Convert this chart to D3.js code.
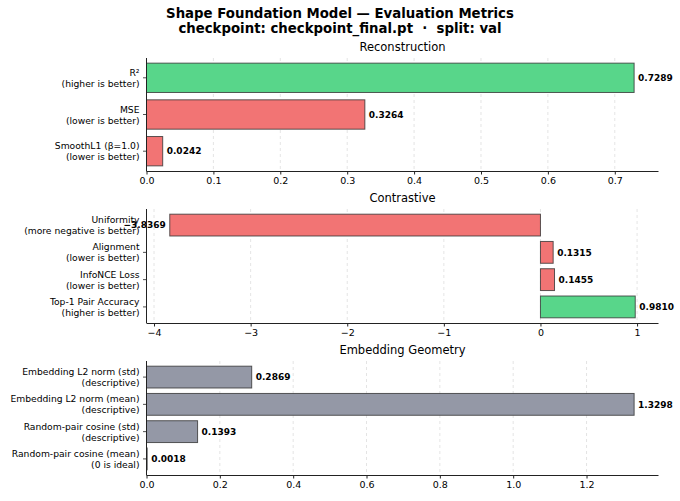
<!DOCTYPE html>
<html>
<head>
<meta charset="utf-8">
<script src="https://cdn.jsdelivr.net/npm/d3@7"></script>
<style>
  body { margin: 0; background: #fff; }
  svg text { font-family: "DejaVu Sans", sans-serif; fill: #000; }
</style>
</head>
<body>
<svg id="chart" width="680" height="501"></svg>
<script>
'use strict';

// --- data ---
var titleLines = ["Shape Foundation Model \u2014 Evaluation Metrics",
                  "checkpoint: checkpoint_final.pt  \u00b7  split: val"];

var reconTitle = "Reconstruction";
var reconLabels = [["R\u00b2", "(higher is better)"],
                   ["MSE", "(lower is better)"],
                   ["SmoothL1 (\u03b2=1.0)", "(lower is better)"]];
var reconValues = [0.7289, 0.3264, 0.0242];
var reconKinds = ["good", "bad", "bad"];
var reconTicks = [0, 0.1, 0.2, 0.3, 0.4, 0.5, 0.6, 0.7];

var contrTitle = "Contrastive";
var contrLabels = [["Uniformity", "(more negative is better)"],
                   ["Alignment", "(lower is better)"],
                   ["InfoNCE Loss", "(lower is better)"],
                   ["Top-1 Pair Accuracy", "(higher is better)"]];
var contrValues = [-3.8369, 0.1315, 0.1455, 0.9810];
var contrKinds = ["bad", "bad", "bad", "good"];
var contrTicks = [-4, -3, -2, -1, 0, 1];

var geoTitle = "Embedding Geometry";
var geoLabels = [["Embedding L2 norm (std)", "(descriptive)"],
                 ["Embedding L2 norm (mean)", "(descriptive)"],
                 ["Random-pair cosine (std)", "(descriptive)"],
                 ["Random-pair cosine (mean)", "(0 is ideal)"]];
var geoValues = [0.2869, 1.3298, 0.1393, 0.0018];
var geoKinds = ["info", "info", "info", "info"];
var geoTicks = [0, 0.2, 0.4, 0.6, 0.8, 1.0, 1.2];

var kindColor = { good: "#58d68a", bad: "#f27474", info: "#9498a6" };

var svg = d3.select("#chart");
var axLeft = 146.5, axRight = 658.5;

svg.append("g").selectAll("text")
    .data(titleLines)
    .enter().append("text")
    .attr("x", 340)
    .attr("y", function (d, i) { return 18 + i * 15; })
    .attr("text-anchor", "middle")
    .attr("font-size", "13.3px")
    .attr("font-weight", "bold")
    .style("white-space", "pre")
    .text(function (d) { return d; });

function fmtTick(step) {
    return function (d) {
        var s = step < 1 ? d3.format(".1f")(d) : d3.format("d")(d);
        return s.replace("-", "\u2212");
    };
}

function drawPanel(top, bottom, title, labels, values, kinds, ticks, tickStep) {
    var n = values.length;
    var dMin = Math.min(0, d3.min(values)), dMax = Math.max(0, d3.max(values));
    var span = dMax - dMin;
    var lo = dMin < 0 ? dMin - 0.05 * span : 0;
    var hi = dMax + 0.05 * span;

    var x = d3.scaleLinear().domain([lo, hi]).range([axLeft, axRight]);
    var m = 0.05 * (n - 1 + 0.8);
    var y = d3.scaleLinear().domain([-0.4 - m, n - 0.6 + m]).range([top, bottom]);

    var g = svg.append("g");

    g.append("text")
        .attr("x", (axLeft + axRight) / 2)
        .attr("y", top - 7)
        .attr("text-anchor", "middle")
        .attr("font-size", "11.5px")
        .text(title);

    // dashed grid
    g.append("g").selectAll("line")
        .data(ticks)
        .enter().append("line")
        .attr("x1", function (d) { return x(d); })
        .attr("x2", function (d) { return x(d); })
        .attr("y1", top)
        .attr("y2", bottom)
        .attr("stroke", "#d8d8d8")
        .attr("stroke-width", 0.7)
        .attr("stroke-dasharray", "3,3");

    g.append("g").selectAll("rect")
        .data(values)
        .enter().append("rect")
        .attr("x", function (d) { return x(Math.min(0, d)); })
        .attr("y", function (d, i) { return y(i - 0.4); })
        .attr("width", function (d) { return Math.abs(x(d) - x(0)); })
        .attr("height", function (d, i) { return y(i + 0.4) - y(i - 0.4); })
        .attr("fill", function (d, i) { return kindColor[kinds[i]]; })
        .attr("stroke", "#333")
        .attr("stroke-opacity", 0.8)
        .attr("stroke-width", 1);

    g.append("g").selectAll("text")
        .data(values)
        .enter().append("text")
        .attr("x", function (d) { return d < 0 ? x(d) - 4 : x(d) + 4; })
        .attr("y", function (d, i) { return y(i); })
        .attr("dy", "0.35em")
        .attr("text-anchor", function (d) { return d < 0 ? "end" : "start"; })
        .attr("font-size", "9px")
        .attr("font-weight", "bold")
        .text(function (d) { return d.toFixed(4).replace("-", "\u2212"); });

    // y axis: spine, ticks, two-line labels
    g.append("line")
        .attr("x1", axLeft).attr("x2", axLeft)
        .attr("y1", top).attr("y2", bottom)
        .attr("stroke", "#222").attr("stroke-width", 1);

    var yt = g.append("g").selectAll("g")
        .data(labels)
        .enter().append("g")
        .attr("transform", function (d, i) { return "translate(0," + y(i) + ")"; });
    yt.append("line")
        .attr("x1", axLeft - 3.5).attr("x2", axLeft)
        .attr("stroke", "#222").attr("stroke-width", 0.8);
    var lt = yt.append("text")
        .attr("text-anchor", "end")
        .attr("font-size", "9.2px");
    lt.append("tspan")
        .attr("x", axLeft - 7).attr("y", -2)
        .text(function (d) { return d[0]; });
    lt.append("tspan")
        .attr("x", axLeft - 7).attr("y", 9)
        .text(function (d) { return d[1]; });

    // x axis
    var xAxis = d3.axisBottom(x)
        .tickValues(ticks)
        .tickFormat(fmtTick(tickStep))
        .tickSize(3.5)
        .tickPadding(3);
    var ax = g.append("g")
        .attr("transform", "translate(0," + bottom + ")")
        .call(xAxis);
    ax.select(".domain").attr("stroke", "#222").attr("d", "M" + axLeft + ",0.5H" + axRight);
    ax.selectAll(".tick line").attr("stroke", "#222");
    ax.selectAll(".tick text")
        .attr("font-size", "9.5px")
        .attr("font-family", "DejaVu Sans, sans-serif")
        .attr("fill", "#000");
}

drawPanel(58, 171, reconTitle, reconLabels, reconValues, reconKinds, reconTicks, 0.1);
drawPanel(209, 323, contrTitle, contrLabels, contrValues, contrKinds, contrTicks, 1);
drawPanel(361, 475, geoTitle, geoLabels, geoValues, geoKinds, geoTicks, 0.2);
</script>
</body>
</html>
